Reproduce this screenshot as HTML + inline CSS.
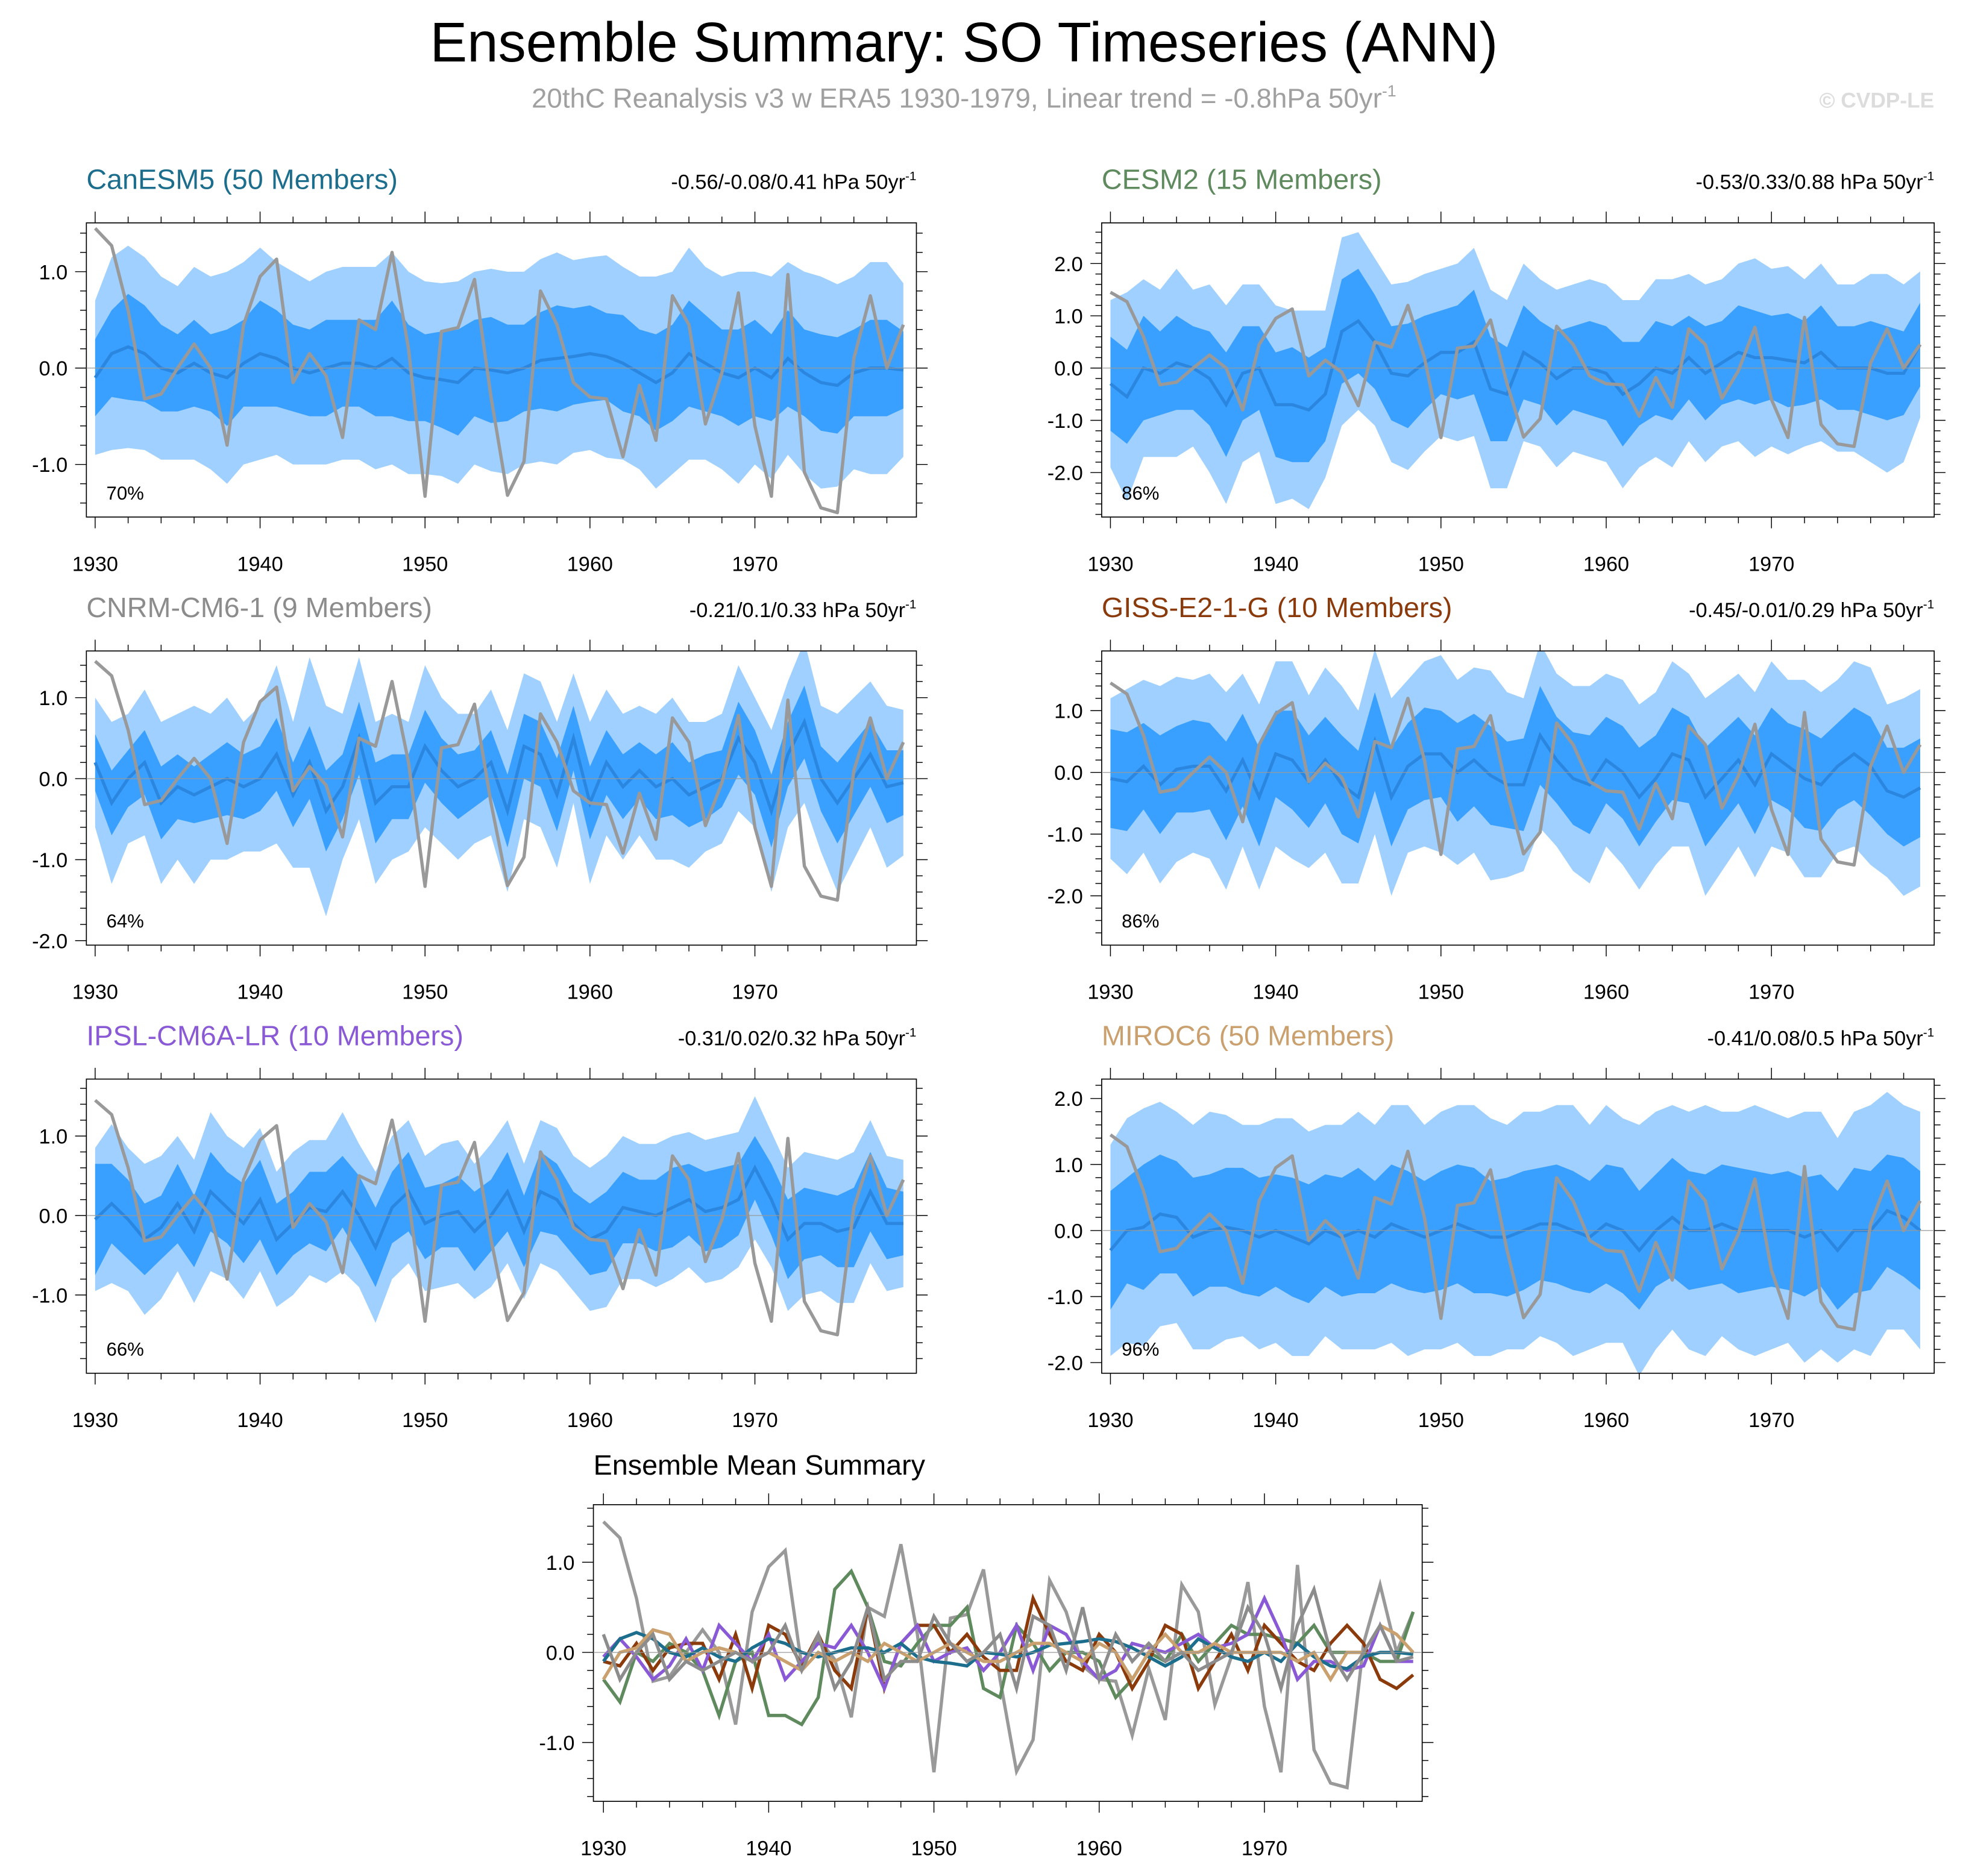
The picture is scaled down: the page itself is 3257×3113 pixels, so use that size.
<!DOCTYPE html>
<html><head><meta charset="utf-8"><style>
html,body{margin:0;padding:0;background:#fff;}
svg{display:block;font-family:"Liberation Sans",sans-serif;}
</style></head><body>
<svg id="chart" width="3257" height="3113" viewBox="0 0 1568 1498.6" xmlns="http://www.w3.org/2000/svg">
<rect x="0" y="0" width="1568" height="1498.6" fill="#fff"/>
<text x="770" y="49" font-size="44.5" text-anchor="middle" fill="#000">Ensemble Summary: SO Timeseries (ANN)</text>
<text x="770" y="86" font-size="22" text-anchor="middle" fill="#a0a0a0">20thC Reanalysis v3 w ERA5 1930-1979, Linear trend = -0.8hPa 50yr<tspan dy="-9" font-size="13">-1</tspan></text>
<text x="1545" y="86" font-size="17" font-weight="bold" text-anchor="end" fill="#dcdcdc">© CVDP-LE</text>
<g id="plots"></g>
</svg>
<script>
const years = [];
for (let y = 1930; y <= 1979; y++) years.push(y);
const obs = [1.45,1.27,0.6,-0.32,-0.27,0.0,0.25,0.0,-0.8,0.45,0.95,1.13,-0.15,0.15,-0.08,-0.72,0.5,0.4,1.2,0.2,-1.33,0.38,0.42,0.92,-0.3,-1.32,-0.97,0.8,0.45,-0.15,-0.3,-0.32,-0.92,-0.18,-0.75,0.75,0.45,-0.58,-0.05,0.78,-0.6,-1.33,0.97,-1.08,-1.45,-1.5,0.1,0.75,0.0,0.45];

const mean1 = [-0.1,0.15,0.22,0.15,0.0,-0.05,0.05,-0.05,-0.1,0.05,0.15,0.1,0.0,-0.05,0.0,0.05,0.05,0.0,0.1,-0.05,-0.1,-0.12,-0.15,0.0,-0.02,-0.05,0.0,0.08,0.1,0.12,0.15,0.12,0.05,-0.05,-0.15,-0.05,0.15,0.05,-0.05,-0.1,0.0,-0.1,0.1,-0.05,-0.15,-0.18,-0.05,0.0,0.0,-0.02];
const in1 = [0.4,0.45,0.55,0.5,0.45,0.4,0.45,0.4,0.5,0.45,0.55,0.5,0.45,0.45,0.5,0.45,0.45,0.5,0.6,0.5,0.45,0.5,0.55,0.5,0.55,0.5,0.45,0.5,0.55,0.5,0.5,0.45,0.5,0.45,0.5,0.5,0.55,0.5,0.45,0.5,0.5,0.45,0.5,0.45,0.5,0.5,0.45,0.5,0.5,0.4];
const out1 = [0.8,1.0,1.05,1.0,0.95,0.9,1.0,1.0,1.1,1.05,1.1,1.0,1.0,0.95,1.0,1.0,1.0,1.05,1.1,1.05,1.0,1.0,1.05,1.0,1.05,1.05,1.0,1.05,1.1,1.0,1.0,1.05,1.0,1.0,1.1,1.05,1.1,1.0,1.0,1.1,1.0,1.05,1.0,1.05,1.1,1.05,1.0,1.1,1.1,0.9];

const mean2 = [-0.3,-0.55,0.0,-0.1,0.1,0.0,-0.2,-0.7,-0.1,0.0,-0.7,-0.7,-0.8,-0.5,0.7,0.9,0.5,-0.1,-0.15,0.1,0.3,0.3,0.5,-0.4,-0.5,0.3,0.1,-0.2,0.0,0.0,-0.1,-0.5,-0.3,0.0,-0.1,0.2,-0.1,0.1,0.3,0.2,0.2,0.15,0.1,0.3,0.0,0.0,0.0,-0.1,-0.1,0.45];
const in2 = [0.9,0.9,1.0,0.8,0.9,0.8,0.9,1.0,0.9,0.8,1.0,1.1,1.0,0.9,1.0,1.0,0.9,0.9,1.0,0.9,0.8,0.9,1.0,1.0,0.9,0.9,0.8,0.9,0.8,0.9,0.9,1.0,0.8,0.9,0.9,0.8,0.9,0.8,0.9,0.9,0.8,0.9,0.8,0.9,0.8,0.8,0.9,0.9,0.8,0.8];
const out2 = [1.6,2.0,1.7,1.6,1.8,1.5,1.8,1.9,1.7,1.6,1.9,1.8,1.9,1.6,1.8,1.7,1.6,1.7,1.8,1.7,1.6,1.7,1.8,1.9,1.8,1.7,1.6,1.7,1.6,1.7,1.7,1.8,1.6,1.7,1.8,1.6,1.7,1.6,1.7,1.9,1.7,1.8,1.6,1.7,1.6,1.6,1.8,1.9,1.7,1.4];

const mean3 = [0.2,-0.3,0.0,0.2,-0.3,-0.1,-0.2,-0.1,0.0,-0.1,0.0,0.3,-0.2,0.2,-0.4,-0.1,0.5,-0.3,-0.1,-0.1,0.4,0.1,-0.1,0.0,0.2,-0.4,0.4,0.3,-0.2,0.5,-0.3,0.2,-0.1,0.1,-0.1,0.0,-0.2,-0.1,0.0,0.5,0.2,-0.4,0.3,0.7,0.0,-0.3,0.0,0.3,-0.1,-0.05];
const in3 = [0.35,0.4,0.35,0.4,0.45,0.4,0.35,0.4,0.45,0.4,0.4,0.45,0.4,0.45,0.5,0.4,0.45,0.5,0.4,0.4,0.45,0.4,0.4,0.35,0.4,0.45,0.4,0.4,0.45,0.4,0.45,0.4,0.4,0.35,0.4,0.45,0.4,0.4,0.35,0.45,0.4,0.45,0.4,0.45,0.4,0.5,0.45,0.4,0.45,0.4];
const out3 = [0.8,1.0,0.8,0.9,1.0,0.9,1.1,0.9,1.0,0.8,0.9,1.1,0.9,1.3,1.3,0.9,1.0,1.0,0.9,0.8,1.0,0.9,0.9,0.8,0.9,1.0,0.9,0.9,0.9,0.8,1.0,0.9,0.9,0.8,0.9,1.0,0.9,0.8,0.8,0.9,0.8,1.0,0.9,1.0,0.9,1.1,1.0,0.9,1.0,0.9];

const mean4 = [-0.1,-0.15,0.1,-0.2,0.05,0.1,0.1,-0.3,0.2,-0.4,0.3,0.2,-0.15,0.2,-0.2,-0.4,0.5,-0.4,0.1,0.3,0.3,0.0,0.2,-0.05,-0.2,-0.2,0.6,0.2,-0.1,-0.2,0.2,0.0,-0.4,-0.1,0.3,0.2,-0.4,-0.1,0.2,-0.2,0.3,0.1,-0.1,-0.2,0.1,0.3,0.1,-0.3,-0.4,-0.25];
const in4 = [0.8,0.8,0.7,0.8,0.7,0.75,0.7,0.8,0.75,0.8,0.7,0.8,0.75,0.7,0.8,0.75,0.8,0.8,0.7,0.75,0.7,0.8,0.75,0.8,0.7,0.75,0.8,0.7,0.75,0.8,0.7,0.75,0.8,0.7,0.75,0.7,0.8,0.75,0.7,0.8,0.75,0.7,0.8,0.75,0.7,0.75,0.8,0.7,0.8,0.8];
const out4 = [1.3,1.5,1.4,1.6,1.5,1.4,1.5,1.6,1.4,1.5,1.5,1.6,1.4,1.5,1.6,1.4,1.5,1.6,1.4,1.5,1.6,1.5,1.5,1.7,1.5,1.4,1.5,1.4,1.5,1.6,1.4,1.5,1.5,1.4,1.5,1.4,1.6,1.5,1.4,1.5,1.5,1.4,1.6,1.5,1.4,1.5,1.6,1.4,1.6,1.6];

const mean5 = [-0.05,0.15,-0.05,-0.3,-0.15,0.15,-0.2,0.3,0.1,-0.1,0.2,-0.3,-0.1,0.1,0.05,0.3,0.0,-0.4,0.1,0.3,-0.1,0.0,0.05,-0.2,0.0,0.3,-0.2,0.3,0.2,-0.1,-0.3,-0.2,0.1,0.05,0.0,0.1,0.2,0.05,0.1,0.2,0.6,0.2,-0.3,-0.1,-0.1,-0.2,-0.15,0.3,-0.1,-0.1];
const in5 = [0.7,0.5,0.5,0.45,0.4,0.5,0.45,0.5,0.45,0.5,0.5,0.45,0.4,0.45,0.5,0.45,0.5,0.5,0.45,0.5,0.45,0.4,0.45,0.5,0.45,0.5,0.45,0.5,0.45,0.4,0.45,0.5,0.45,0.4,0.45,0.5,0.45,0.5,0.5,0.45,0.4,0.45,0.5,0.45,0.4,0.45,0.5,0.5,0.45,0.4];
const out5 = [0.9,1.0,0.9,0.95,0.9,0.85,0.9,1.0,0.9,0.95,0.9,0.85,0.9,0.85,0.9,1.0,0.9,0.95,0.9,0.9,0.85,0.9,0.9,0.85,0.9,0.9,0.85,0.9,0.9,0.85,0.9,0.95,0.9,0.85,0.9,0.9,0.85,0.9,0.9,0.85,0.9,0.85,0.9,0.9,0.85,0.9,0.95,0.9,0.85,0.8];

const mean6 = [-0.3,0.0,0.05,0.25,0.2,-0.1,0.0,0.05,0.0,-0.1,0.0,-0.1,-0.2,0.0,-0.1,0.0,-0.1,0.1,0.0,-0.1,0.0,0.1,0.0,-0.1,-0.1,0.0,0.1,0.1,0.0,-0.1,0.1,0.0,-0.3,0.0,0.2,0.0,0.0,0.1,0.0,0.0,0.0,0.0,-0.1,0.0,-0.3,0.0,0.0,0.3,0.2,0.0];
const in6 = [0.9,0.8,0.95,0.9,0.85,0.9,0.85,0.9,0.95,0.9,0.85,0.9,0.9,0.85,0.9,0.95,0.85,0.9,0.9,0.85,0.9,0.9,0.95,0.85,0.9,0.9,0.85,0.9,0.9,0.85,0.9,0.95,0.9,0.85,0.9,0.9,0.85,0.9,0.95,0.9,0.85,0.9,0.9,0.85,0.9,0.95,0.9,0.85,0.9,0.9];
const out6 = [1.6,1.7,1.8,1.7,1.6,1.7,1.8,1.7,1.6,1.7,1.7,1.8,1.7,1.6,1.7,1.8,1.7,1.8,1.9,1.7,1.8,1.8,1.9,1.8,1.7,1.8,1.7,1.8,1.9,1.7,1.8,1.7,1.9,1.8,1.7,1.8,1.9,1.7,1.8,1.9,1.8,1.7,1.9,1.8,1.7,1.8,1.9,1.8,1.7,1.8];

const panelNames = ["CanESM5 (50 Members)","CESM2 (15 Members)","CNRM-CM6-1 (9 Members)","GISS-E2-1-G (10 Members)","IPSL-CM6A-LR (10 Members)","MIROC6 (50 Members)"];
const trendLabels = ["-0.56/-0.08/0.41","-0.53/0.33/0.88","-0.21/0.1/0.33","-0.45/-0.01/0.29","-0.31/0.02/0.32","-0.41/0.08/0.5"];
const pctLabels = ["70%","86%","64%","86%","66%","96%"];
const modelColors = ["#1c6e8c","#5e8a5e","#8c8c8c","#8b3a0c","#8a5ad6","#c9a06e"];

const NS = "http://www.w3.org/2000/svg";
const root = document.getElementById("plots");
function mk(tag, attrs, parent) {
  const e = document.createElementNS(NS, tag);
  for (const k in attrs) e.setAttribute(k, attrs[k]);
  (parent || root).appendChild(e);
  return e;
}
function fmt(v){ return v.toFixed(1); }

function drawAxes(g, L, yt, yMin, yMax) {
  const {x0,x1,y0,y1,xs,ys} = L;
  mk("rect",{x:x0,y:y0,width:x1-x0,height:y1-y0,fill:"none",stroke:"#000","stroke-width":0.8},g);
  mk("line",{x1:x0,x2:x1,y1:ys(0),y2:ys(0),stroke:"#999","stroke-width":0.6},g);
  for (let yr=1930; yr<=1979; yr+=2) {
    const x=xs(yr), major=(yr%10===0), len=major?9:5;
    mk("line",{x1:x,x2:x,y1:y1,y2:y1+len,stroke:"#000","stroke-width":0.7},g);
    mk("line",{x1:x,x2:x,y1:y0,y2:y0-len,stroke:"#000","stroke-width":0.7},g);
    if (major) {
      const t = mk("text",{x:x,y:y1+43,"font-size":16.5,"text-anchor":"middle",fill:"#000"},g);
      t.textContent = yr;
    }
  }
  for (let v=Math.ceil(yMin*5)/5; v<=yMax+1e-9; v+=0.2) {
    const vv=Math.round(v*10)/10, y=ys(vv), major=Math.abs(vv-Math.round(vv))<1e-6, len=major?9:5;
    if (y<y0-0.1||y>y1+0.1) continue;
    mk("line",{x1:x0,x2:x0-len,y1:y,y2:y,stroke:"#000","stroke-width":0.7},g);
    mk("line",{x1:x1,x2:x1+len,y1:y,y2:y,stroke:"#000","stroke-width":0.7},g);
    if (major && yt.includes(Math.round(vv))) {
      const t = mk("text",{x:x0-15,y:y+6,"font-size":16.5,"text-anchor":"end",fill:"#000"},g);
      t.textContent = fmt(Math.round(vv));
    }
  }
}
function pathOf(vals, L) {
  return vals.map((v,i)=>(i?"L":"M")+L.xs(years[i]).toFixed(2)+" "+L.ys(v).toFixed(2)).join(" ");
}
function bandOf(mean, half, L) {
  const up = mean.map((m,i)=>m+half[i]);
  const dn = mean.map((m,i)=>m-half[i]);
  let d = pathOf(up, L);
  for (let i=dn.length-1;i>=0;i--) d += " L"+L.xs(years[i]).toFixed(2)+" "+L.ys(dn[i]).toFixed(2);
  return d+" Z";
}
function makeLayout(x0,x1,y0,y1,px1930,px1970,zeroY,pxPerUnit){
  return {x0,x1,y0,y1,
    xs:yr=>px1930+(yr-1930)*(px1970-px1930)/40,
    ys:v=>zeroY-v*pxPerUnit,
    vTop:(zeroY-y0)/pxPerUnit, vBot:-(y1-zeroY)/pxPerUnit};
}
const panels = [
  {L:makeLayout(69,732,178,413,76,603,294,77), yt:[-1,0,1], mean:mean1, inner:in1, outer:out1},
  {L:makeLayout(880,1545,178,413,887,1415,294,41.75), yt:[-2,-1,0,1,2], mean:mean2, inner:in2, outer:out2},
  {L:makeLayout(69,732,520,755,76,603,622,64.7), yt:[-2,-1,0,1], mean:mean3, inner:in3, outer:out3},
  {L:makeLayout(880,1545,520,755,887,1415,617,49.3), yt:[-2,-1,0,1], mean:mean4, inner:in4, outer:out4},
  {L:makeLayout(69,732,862,1097,76,603,971,63.5), yt:[-1,0,1], mean:mean5, inner:in5, outer:out5},
  {L:makeLayout(880,1545,862,1097,887,1415,983,52.75), yt:[-2,-1,0,1,2], mean:mean6, inner:in6, outer:out6}
];
panels.forEach((p,k)=>{
  const L=p.L;
  const g = mk("g",{});
  
  
  const cid="clip"+k;
  const cp = mk("clipPath",{id:cid},g);
  mk("rect",{x:L.x0,y:L.y0,width:L.x1-L.x0,height:L.y1-L.y0},cp);
  const cg = mk("g",{"clip-path":"url(#"+cid+")"},g);
  const ob = mk("path",{d:bandOf(p.mean,p.outer,L),fill:"#9fd0ff",stroke:"none"},cg);
  
  
  const ib = mk("path",{d:bandOf(p.mean,p.inner,L),fill:"#3aa0ff",stroke:"none"},cg);
  
  
  const ml = mk("path",{d:pathOf(p.mean,L),fill:"none",stroke:"#2a86de","stroke-width":2.5},cg);
  
  
  const ol = mk("path",{d:pathOf(obs,L),fill:"none",stroke:"#999999","stroke-width":2.6,"stroke-linejoin":"round"},cg);
  
  
  drawAxes(g,L,p.yt,L.vBot,L.vTop);
  const t = mk("text",{x:L.x0,y:L.y0-27,"font-size":22.5,fill:modelColors[k]},g);
  t.textContent = panelNames[k];
  
  
  const tr = mk("text",{x:L.x1,y:L.y0-27,"font-size":16.5,"text-anchor":"end",fill:"#000"},g);
  tr.textContent = trendLabels[k]+" hPa 50yr";
  const sup = mk("tspan",{dy:-7,"font-size":10},tr);
  sup.textContent="-1";
  
  
  const pc = mk("text",{x:L.x0+16,y:L.y1-14,"font-size":15,fill:"#000"},g);
  pc.textContent = pctLabels[k];
  
  
});

const LB = makeLayout(474,1136,1202,1439,482,1010,1320,72);
const gb = mk("g",{});


const cpb = mk("clipPath",{id:"clipB"},gb);
mk("rect",{x:LB.x0,y:LB.y0,width:LB.x1-LB.x0,height:LB.y1-LB.y0},cpb);
const cgb = mk("g",{"clip-path":"url(#clipB)"},gb);
const ob2 = mk("path",{d:pathOf(obs,LB),fill:"none",stroke:"#999999","stroke-width":2.6},cgb);


[1,3,4,0,5,2].forEach(k=>{
  const ln = mk("path",{d:pathOf(panels[k].mean,LB),fill:"none",stroke:modelColors[k],"stroke-width":2.6},cgb);
  
  
});
drawAxes(gb,LB,[-1,0,1],LB.vBot,LB.vTop);
const bt = mk("text",{x:LB.x0,y:LB.y0-24,"font-size":22.5,fill:"#000"},gb);
bt.textContent="Ensemble Mean Summary";


</script>
</body></html>
